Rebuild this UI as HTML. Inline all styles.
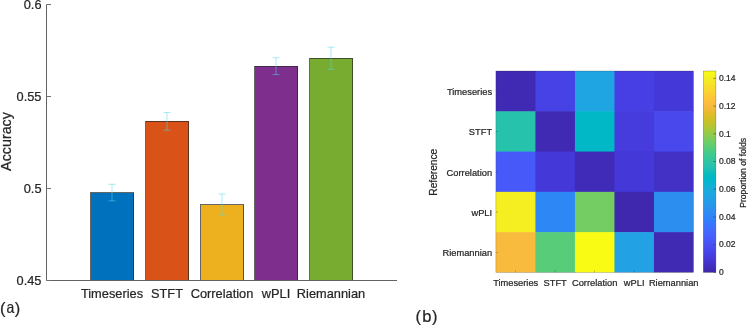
<!DOCTYPE html>
<html><head><meta charset="utf-8"><title>figure</title>
<style>
html,body{margin:0;padding:0;background:#fff;}
body{width:748px;height:326px;overflow:hidden;position:relative;font-family:"Liberation Sans",sans-serif;}
svg{position:absolute;left:0;top:0;will-change:transform;}
text{font-family:"Liberation Sans",sans-serif;fill:#262626;stroke:#262626;stroke-width:0.22px;}
.t12{font-size:12.8px;}
.t9{font-size:9.3px;}
</style></head><body>
<svg width="748" height="326" viewBox="0 0 748 326">
<rect x="0" y="0" width="748" height="326" fill="#ffffff"/>

<g shape-rendering="crispEdges">
<rect x="90.5" y="192.5" width="43.0" height="88.0" fill="#0072BD" stroke="#262626" stroke-opacity="0.7" stroke-width="1"/>
<rect x="145.5" y="121.3" width="43.0" height="159.2" fill="#D95319" stroke="#262626" stroke-opacity="0.7" stroke-width="1"/>
<rect x="200.5" y="204.5" width="43.0" height="76.0" fill="#EDB120" stroke="#262626" stroke-opacity="0.7" stroke-width="1"/>
<rect x="254.5" y="66.1" width="43.0" height="214.4" fill="#7E2F8E" stroke="#262626" stroke-opacity="0.7" stroke-width="1"/>
<rect x="309.5" y="58.2" width="43.0" height="222.3" fill="#77AC30" stroke="#262626" stroke-opacity="0.7" stroke-width="1"/>
</g>
<path d="M46.5 4.5V280.5H397" fill="none" stroke="#636363" stroke-width="1"/>
<path d="M46.5 280.5h4.5" stroke="#707070" stroke-width="1"/>
<text class="t12" x="41.5" y="284.9" text-anchor="end">0.45</text>
<path d="M46.5 188.5h4.5" stroke="#707070" stroke-width="1"/>
<text class="t12" x="41.5" y="192.9" text-anchor="end">0.5</text>
<path d="M46.5 96.5h4.5" stroke="#707070" stroke-width="1"/>
<text class="t12" x="41.5" y="100.9" text-anchor="end">0.55</text>
<path d="M46.5 4.5h4.5" stroke="#707070" stroke-width="1"/>
<text class="t12" x="41.5" y="8.9" text-anchor="end">0.6</text>
<path d="M112.0 184.3V200.8M108.5 184.3h7M108.5 200.8h7" stroke="#55D8EA" stroke-width="1" fill="none" opacity="0.5"/>
<path d="M167.0 112.5V130.2M163.5 112.5h7M163.5 130.2h7" stroke="#55D8EA" stroke-width="1" fill="none" opacity="0.5"/>
<path d="M222.0 194.0V215.0M218.5 194.0h7M218.5 215.0h7" stroke="#55D8EA" stroke-width="1" fill="none" opacity="0.5"/>
<path d="M276.0 57.7V74.6M272.5 57.7h7M272.5 74.6h7" stroke="#55D8EA" stroke-width="1" fill="none" opacity="0.5"/>
<path d="M331.0 47.2V69.3M327.5 47.2h7M327.5 69.3h7" stroke="#55D8EA" stroke-width="1" fill="none" opacity="0.5"/>
<text class="t12" x="112.0" y="298.2" text-anchor="middle">Timeseries</text>
<text class="t12" x="167.0" y="298.2" text-anchor="middle">STFT</text>
<text class="t12" x="222.0" y="298.2" text-anchor="middle">Correlation</text>
<text class="t12" x="276.0" y="298.2" text-anchor="middle">wPLI</text>
<text class="t12" x="331.0" y="298.2" text-anchor="middle">Riemannian</text>
<text x="11.3" y="141.5" font-size="14.3" text-anchor="middle" transform="rotate(-90 11.3 141.5)">Accuracy</text>
<g font-size="16.5" fill="#1a1a1a" stroke="#1a1a1a" stroke-width="0.3"><text x="0.1" y="314">(</text><text x="6.5" y="313.3" textLength="7.8" lengthAdjust="spacingAndGlyphs">a</text><text x="14.8" y="314">)</text></g>
<rect x="495.90" y="71.00" width="40.12" height="40.88" fill="#402AB3"/>
<rect x="535.42" y="71.00" width="40.12" height="40.88" fill="#4742E6"/>
<rect x="574.94" y="71.00" width="40.12" height="40.88" fill="#1FA5E2"/>
<rect x="614.46" y="71.00" width="40.12" height="40.88" fill="#473FE3"/>
<rect x="653.98" y="71.00" width="39.52" height="40.88" fill="#4538D8"/>
<rect x="495.90" y="111.28" width="40.12" height="40.88" fill="#27C2AB"/>
<rect x="535.42" y="111.28" width="40.12" height="40.88" fill="#402AB3"/>
<rect x="574.94" y="111.28" width="40.12" height="40.88" fill="#01B9C6"/>
<rect x="614.46" y="111.28" width="40.12" height="40.88" fill="#463BDC"/>
<rect x="653.98" y="111.28" width="39.52" height="40.88" fill="#4848EC"/>
<rect x="495.90" y="151.56" width="40.12" height="40.88" fill="#475AF9"/>
<rect x="535.42" y="151.56" width="40.12" height="40.88" fill="#4538D8"/>
<rect x="574.94" y="151.56" width="40.12" height="40.88" fill="#402BB8"/>
<rect x="614.46" y="151.56" width="40.12" height="40.88" fill="#4538D8"/>
<rect x="653.98" y="151.56" width="39.52" height="40.88" fill="#4331C6"/>
<rect x="495.90" y="191.84" width="40.12" height="40.88" fill="#F5EE21"/>
<rect x="535.42" y="191.84" width="40.12" height="40.88" fill="#2D88F6"/>
<rect x="574.94" y="191.84" width="40.12" height="40.88" fill="#73CD63"/>
<rect x="614.46" y="191.84" width="40.12" height="40.88" fill="#3F28AE"/>
<rect x="653.98" y="191.84" width="39.52" height="40.88" fill="#2C8FF0"/>
<rect x="495.90" y="232.12" width="40.12" height="40.28" fill="#F9BB3D"/>
<rect x="535.42" y="232.12" width="40.12" height="40.28" fill="#58CC79"/>
<rect x="574.94" y="232.12" width="40.12" height="40.28" fill="#F9FB15"/>
<rect x="614.46" y="232.12" width="40.12" height="40.28" fill="#22A1E4"/>
<rect x="653.98" y="232.12" width="39.52" height="40.28" fill="#402AB3"/>
<rect x="495.9" y="71.0" width="197.60" height="201.40" fill="none" stroke="#262626" stroke-width="0.5" opacity="0.45"/>
<path d="M495.9 91.1h2" stroke="#262626" stroke-width="0.5" opacity="0.6"/>
<text class="t9" x="492.1" y="95.0" text-anchor="end">Timeseries</text>
<path d="M495.9 131.4h2" stroke="#262626" stroke-width="0.5" opacity="0.6"/>
<text class="t9" x="492.1" y="135.3" text-anchor="end">STFT</text>
<path d="M495.9 171.7h2" stroke="#262626" stroke-width="0.5" opacity="0.6"/>
<text class="t9" x="492.1" y="175.6" text-anchor="end">Correlation</text>
<path d="M495.9 212.0h2" stroke="#262626" stroke-width="0.5" opacity="0.6"/>
<text class="t9" x="492.1" y="215.9" text-anchor="end">wPLI</text>
<path d="M495.9 252.3h2" stroke="#262626" stroke-width="0.5" opacity="0.6"/>
<text class="t9" x="492.1" y="256.2" text-anchor="end">Riemannian</text>
<path d="M515.7 272.4v-2" stroke="#262626" stroke-width="0.5" opacity="0.6"/>
<text class="t9" x="515.7" y="286.3" text-anchor="middle">Timeseries</text>
<path d="M555.2 272.4v-2" stroke="#262626" stroke-width="0.5" opacity="0.6"/>
<text class="t9" x="555.2" y="286.3" text-anchor="middle">STFT</text>
<path d="M594.7 272.4v-2" stroke="#262626" stroke-width="0.5" opacity="0.6"/>
<text class="t9" x="594.7" y="286.3" text-anchor="middle">Correlation</text>
<path d="M634.2 272.4v-2" stroke="#262626" stroke-width="0.5" opacity="0.6"/>
<text class="t9" x="634.2" y="286.3" text-anchor="middle">wPLI</text>
<path d="M673.7 272.4v-2" stroke="#262626" stroke-width="0.5" opacity="0.6"/>
<text class="t9" x="673.7" y="286.3" text-anchor="middle">Riemannian</text>
<text x="437.3" y="172.2" font-size="10.2" text-anchor="middle" transform="rotate(-90 437.3 172.2)">Reference</text>
<defs><linearGradient id="pg" x1="0" y1="1" x2="0" y2="0"><stop offset="0.0000" stop-color="#3E26A8"/><stop offset="0.0159" stop-color="#402AB4"/><stop offset="0.0317" stop-color="#422EC0"/><stop offset="0.0476" stop-color="#4332CB"/><stop offset="0.0635" stop-color="#4537D5"/><stop offset="0.0794" stop-color="#463CDE"/><stop offset="0.0952" stop-color="#4741E5"/><stop offset="0.1111" stop-color="#4747EB"/><stop offset="0.1270" stop-color="#484DF0"/><stop offset="0.1429" stop-color="#4852F4"/><stop offset="0.1587" stop-color="#4758F8"/><stop offset="0.1746" stop-color="#465EFB"/><stop offset="0.1905" stop-color="#4563FD"/><stop offset="0.2063" stop-color="#4269FE"/><stop offset="0.2222" stop-color="#3E6FFF"/><stop offset="0.2381" stop-color="#3875FE"/><stop offset="0.2540" stop-color="#327CFC"/><stop offset="0.2698" stop-color="#2F81FA"/><stop offset="0.2857" stop-color="#2E87F7"/><stop offset="0.3016" stop-color="#2D8CF3"/><stop offset="0.3175" stop-color="#2B91EF"/><stop offset="0.3333" stop-color="#2797EB"/><stop offset="0.3492" stop-color="#259BE8"/><stop offset="0.3651" stop-color="#23A0E5"/><stop offset="0.3810" stop-color="#20A5E3"/><stop offset="0.3968" stop-color="#1CA9DF"/><stop offset="0.4127" stop-color="#18ADDB"/><stop offset="0.4286" stop-color="#12B1D6"/><stop offset="0.4444" stop-color="#08B5D0"/><stop offset="0.4603" stop-color="#01B8CA"/><stop offset="0.4762" stop-color="#02BAC3"/><stop offset="0.4921" stop-color="#0BBDBD"/><stop offset="0.5079" stop-color="#19BFB6"/><stop offset="0.5238" stop-color="#24C1AE"/><stop offset="0.5397" stop-color="#2CC4A7"/><stop offset="0.5556" stop-color="#31C69F"/><stop offset="0.5714" stop-color="#37C897"/><stop offset="0.5873" stop-color="#3FCA8E"/><stop offset="0.6032" stop-color="#4ACB84"/><stop offset="0.6190" stop-color="#57CC7A"/><stop offset="0.6349" stop-color="#64CD6F"/><stop offset="0.6508" stop-color="#72CD64"/><stop offset="0.6667" stop-color="#81CC59"/><stop offset="0.6825" stop-color="#8FCB4E"/><stop offset="0.6984" stop-color="#9DC943"/><stop offset="0.7143" stop-color="#ABC739"/><stop offset="0.7302" stop-color="#B9C431"/><stop offset="0.7460" stop-color="#C5C22A"/><stop offset="0.7619" stop-color="#D1BF27"/><stop offset="0.7778" stop-color="#DCBD29"/><stop offset="0.7937" stop-color="#E6BB2D"/><stop offset="0.8095" stop-color="#F0BA36"/><stop offset="0.8254" stop-color="#F8BA3D"/><stop offset="0.8413" stop-color="#FEBE3C"/><stop offset="0.8571" stop-color="#FEC338"/><stop offset="0.8730" stop-color="#FEC934"/><stop offset="0.8889" stop-color="#FCCF30"/><stop offset="0.9048" stop-color="#FAD62D"/><stop offset="0.9206" stop-color="#F7DC2A"/><stop offset="0.9365" stop-color="#F5E327"/><stop offset="0.9524" stop-color="#F5E924"/><stop offset="0.9683" stop-color="#F6EF20"/><stop offset="0.9841" stop-color="#F7F51B"/><stop offset="1.0000" stop-color="#F9FB15"/></linearGradient></defs>
<rect x="703.3" y="71" width="12.6" height="201.4" fill="url(#pg)"/>
<rect x="703.3" y="71" width="12.6" height="201.4" fill="none" stroke="#262626" stroke-width="0.5" opacity="0.5"/>
<path d="M715.9 272.4h-2.5" stroke="#404040" stroke-width="0.6"/>
<text font-size="8.5" x="719" y="275.1">0</text>
<path d="M715.9 244.7h-2.5" stroke="#404040" stroke-width="0.6"/>
<text font-size="8.5" x="719" y="247.4">0.02</text>
<path d="M715.9 217.0h-2.5" stroke="#404040" stroke-width="0.6"/>
<text font-size="8.5" x="719" y="219.7">0.04</text>
<path d="M715.9 189.2h-2.5" stroke="#404040" stroke-width="0.6"/>
<text font-size="8.5" x="719" y="191.9">0.06</text>
<path d="M715.9 161.5h-2.5" stroke="#404040" stroke-width="0.6"/>
<text font-size="8.5" x="719" y="164.2">0.08</text>
<path d="M715.9 133.8h-2.5" stroke="#404040" stroke-width="0.6"/>
<text font-size="8.5" x="719" y="136.5">0.1</text>
<path d="M715.9 106.1h-2.5" stroke="#404040" stroke-width="0.6"/>
<text font-size="8.5" x="719" y="108.8">0.12</text>
<path d="M715.9 78.3h-2.5" stroke="#404040" stroke-width="0.6"/>
<text font-size="8.5" x="719" y="81.0">0.14</text>
<text x="746" y="172.9" font-size="8.6" text-anchor="middle" transform="rotate(-90 746 172.9)">Proportion of folds</text>
<g font-size="16.5" fill="#1a1a1a" stroke="#1a1a1a" stroke-width="0.3"><text x="415.4" y="321.9">(</text><text x="422.2" y="321.9">b</text><text x="432.1" y="321.9">)</text></g>
</svg></body></html>
